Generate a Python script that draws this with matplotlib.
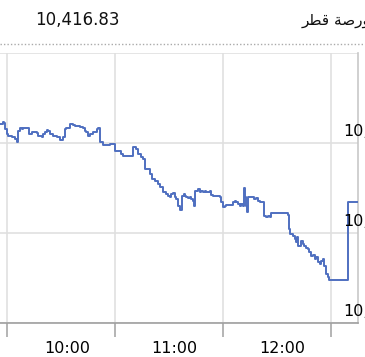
import matplotlib
matplotlib.use("Agg")
import matplotlib.pyplot as plt
from matplotlib.transforms import offset_copy

# ---- data -------------------------------------------------------------
title_value = "10,416.83"
title_name = "بورصة قطر"

# minutes after midnight (step change times) and index level
minutes = [562.8, 564.3, 565.0, 565.6, 566.5, 567.4, 569.3, 571.1, 572.2, 572.9,
           573.9, 574.8, 575.7, 578.5, 579.1, 580.4, 583.2, 584.1, 585.9, 586.8,
           587.8, 588.7, 589.6, 590.6, 592.4, 594.3, 596.1, 597.9, 598.9, 599.8,
           601.7, 603.5, 604.4, 607.2, 609.1, 610.0, 610.9, 611.8, 612.8, 614.6,
           616.5, 617.4, 618.3, 620.2, 623.9, 626.7, 630.4, 631.3, 636.8, 638.3,
           639.6, 641.5, 642.4, 643.3, 646.1, 647.1, 648.9, 650.7, 651.7, 653.5,
           655.4, 656.3, 657.2, 658.2, 659.1, 660.0, 660.9, 661.8, 662.8, 664.3,
           665.0, 665.6, 666.5, 667.4, 668.3, 669.3, 670.2, 670.6, 671.1, 672.9,
           673.9, 674.8, 675.7, 676.7, 677.6, 679.4, 680.4, 681.3, 685.0, 685.9,
           686.8, 687.8, 688.7, 692.4, 693.3, 694.3, 695.2, 696.1, 697.1, 698.0,
           698.5, 699.3, 699.8, 700.4, 700.7, 704.4, 705.4, 706.3, 707.2, 709.6,
           710.6, 711.8, 712.8, 713.7, 723.0, 723.5, 724.3, 725.7, 726.7, 727.6,
           728.1, 728.5, 730.4, 731.3, 732.2, 733.2, 734.1, 735.0, 735.9, 736.8,
           737.8, 738.7, 739.6, 740.6, 741.5, 742.4, 743.3, 744.3, 745.2, 745.7,
           756.7, 761.7]
level = [10434.2, 10434.7, 10434.4, 10433.1, 10432.0, 10431.6, 10431.3, 10430.9, 10430.2, 10432.7,
         10433.3, 10433.1, 10433.3, 10433.3, 10432.0, 10432.4, 10432.2, 10431.6, 10431.3, 10432.0,
         10432.4, 10432.9, 10432.7, 10432.0, 10431.6, 10431.3, 10430.7, 10431.3, 10433.1, 10433.3,
         10434.2, 10434.0, 10433.8, 10433.6, 10433.3, 10432.7, 10432.4, 10431.6, 10432.0, 10432.4,
         10433.1, 10433.3, 10430.2, 10429.6, 10429.8, 10428.2, 10427.6, 10427.1, 10429.1, 10428.7,
         10427.6, 10426.9, 10426.4, 10424.2, 10423.1, 10422.0, 10421.6, 10420.9, 10420.2, 10419.1,
         10418.7, 10418.2, 10418.0, 10418.7, 10418.9, 10418.0, 10417.6, 10416.0, 10415.1, 10418.2,
         10418.7, 10418.2, 10418.0, 10417.8, 10418.0, 10417.6, 10417.1, 10416.0, 10419.3, 10419.8,
         10419.1, 10419.3, 10419.1, 10419.3, 10419.1, 10419.3, 10418.4, 10418.2, 10418.0, 10416.9,
         10415.8, 10416.0, 10416.2, 10416.9, 10417.1, 10416.9, 10416.4, 10416.0, 10416.4, 10416.0,
         10420.0, 10418.0, 10416.0, 10414.7, 10418.0, 10417.6, 10417.8, 10417.1, 10416.9, 10413.8,
         10413.6, 10413.8, 10413.6, 10414.4, 10414.0, 10410.9, 10409.8, 10409.3, 10408.7, 10408.0,
         10409.1, 10407.1, 10408.2, 10407.6, 10407.1, 10406.7, 10406.4, 10405.8, 10404.9, 10405.1,
         10404.2, 10404.7, 10403.6, 10403.1, 10403.8, 10404.2, 10402.7, 10400.9, 10400.2, 10399.6,
         10416.83, 10416.83]

hour_ticks = [600, 660, 720]
hour_labels = ["10:00", "11:00", "12:00"]
grid_minutes = [566.7, 626.7, 686.7, 746.7]
y_ticks = [10390, 10410, 10430, 10450]
y_labels = ["10,390", "10,410", "10,430"]

# ---- simple Arabic shaping (presentation forms, visual order) ----------
_forms = {  # isolated, final, initial, medial
    'ب': ('\ufe8f', '\ufe90', '\ufe91', '\ufe92'),
    'و': ('\ufeed', '\ufeee', None, None),
    'ر': ('\ufead', '\ufeae', None, None),
    'ص': ('\ufeb9', '\ufeba', '\ufebb', '\ufebc'),
    'ة': ('\ufe93', '\ufe94', None, None),
    'ق': ('\ufed5', '\ufed6', '\ufed7', '\ufed8'),
    'ط': ('\ufec1', '\ufec2', '\ufec3', '\ufec4'),
}


def shape_arabic(s):
    out = []
    for i, ch in enumerate(s):
        if ch not in _forms:
            out.append(ch)
            continue
        prev = s[i - 1] if i > 0 else ''
        nxt = s[i + 1] if i + 1 < len(s) else ''
        jp = prev in _forms and _forms[prev][2] is not None
        jn = nxt in _forms and _forms[ch][2] is not None
        iso, fin, ini, med = _forms[ch]
        if jp and jn:
            out.append(med)
        elif jp:
            out.append(fin)
        elif jn:
            out.append(ini)
        else:
            out.append(iso)
    return ''.join(reversed(out))


# ---- figure -----------------------------------------------------------
W, H = 365, 357
fig = plt.figure(figsize=(W / 100, H / 100), dpi=100)
fig.patch.set_facecolor("white")

ax_left, ax_right, ax_top, ax_bottom = 0, 358, 53, 323
ax = fig.add_axes([ax_left / W, (H - ax_bottom) / H,
                   (ax_right - ax_left) / W, (ax_bottom - ax_top) / H])

ax.step(minutes, level, where="post", color="#4f6fc0", lw=1.4, zorder=3)

ax.set_xlim(562.8, 762.0)
ax.set_ylim(10390, 10450)

grid_c = "#e0e0e0"
ax.set_xticks(grid_minutes)
ax.set_xticklabels([])
ax.set_xticks(hour_ticks, minor=True)
ax.set_xticklabels(hour_labels, minor=True, fontsize=11.5, family="DejaVu Sans")
ax.tick_params(axis="x", which="major", length=10, width=1.2, color="#a8a8a8", direction="out")
ax.tick_params(axis="x", which="minor", length=0, pad=13)
ax.set_yticks(y_ticks)
ax.set_yticklabels([])
ax.tick_params(axis="y", length=0)
ax.grid(True, which="major", color=grid_c, lw=1.2)
ax.set_axisbelow(True)

for s in ["left", "top"]:
    ax.spines[s].set_visible(False)
ax.spines["bottom"].set_color("#a0a0a0")
ax.spines["bottom"].set_linewidth(1.2)
ax.spines["right"].set_color("#c8c8c8")
ax.spines["right"].set_linewidth(1.2)

# y labels drawn at the right, partly cut by the figure edge (as in the source)
tr = offset_copy(ax.get_yaxis_transform(), fig=fig, x=0, y=11, units="dots")
for v, lab in zip(y_ticks, y_labels):
    ax.text((343 - ax_left) / (ax_right - ax_left), v, lab, transform=tr,
            ha="left", va="center", fontsize=11.5, color="black",
            clip_on=False, zorder=4)

# header
fig.text(35 / W, 1 - 20 / H, title_value, ha="left", va="center",
         fontsize=12, color="#111111")
fig.text(302 / W, 1 - 21 / H, shape_arabic(title_name), ha="left", va="center",
         fontsize=11, color="#111111", family="DejaVu Sans")
fig.add_artist(plt.Line2D([0, 1], [1 - 44 / H, 1 - 44 / H], transform=fig.transFigure,
                          color="#aaaaaa", lw=1.0, ls=(0, (1, 1.5))))

fig.savefig("out.png", dpi=100)
